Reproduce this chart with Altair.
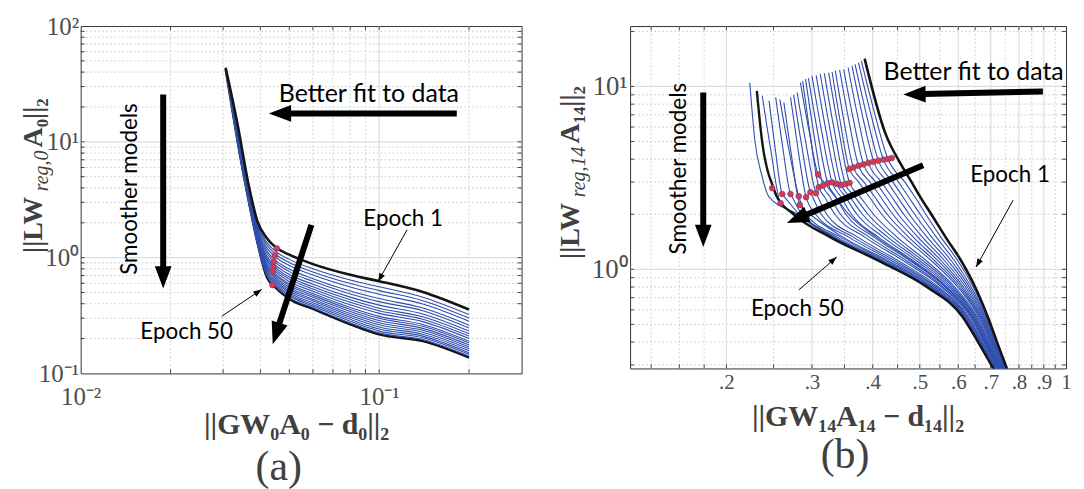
import altair as alt
import pandas as pd

SERIF = "Liberation Serif"
SANS = "Lato"
BLUE = "#2F4EAD"
BLACK = "#141414"
RED = "#E8343C"
LABEL_GRAY = "#4d4d4d"

# ======================= Panel (a) data =======================
A_X = [0.0306, 0.0335, 0.0365, 0.039, 0.042, 0.045, 0.05, 0.06, 0.08, 0.1, 0.14, 0.2]
# one row per sampled epoch (epoch 1 first, epoch 50 last)
A_CURVES = [
    [43.6, 14.4, 4.30, 2.10, 1.48, 1.23, 1.06, 0.879, 0.710, 0.625, 0.505, 0.356],
    [43.5, 13.8, 4.14, 2.00, 1.36, 1.13, 0.966, 0.800, 0.640, 0.560, 0.455, 0.322],
    [43.4, 13.5, 4.04, 1.94, 1.29, 1.07, 0.908, 0.752, 0.597, 0.519, 0.425, 0.301],
    [43.3, 13.1, 3.94, 1.87, 1.22, 1.01, 0.855, 0.707, 0.558, 0.483, 0.397, 0.282],
    [43.2, 12.8, 3.84, 1.81, 1.15, 0.946, 0.796, 0.658, 0.515, 0.443, 0.367, 0.261],
    [43.1, 12.5, 3.76, 1.76, 1.10, 0.904, 0.757, 0.624, 0.486, 0.417, 0.348, 0.247],
    [43.0, 12.2, 3.67, 1.71, 1.04, 0.857, 0.714, 0.589, 0.456, 0.389, 0.326, 0.232],
    [42.9, 11.9, 3.60, 1.66, 1.00, 0.820, 0.679, 0.560, 0.432, 0.366, 0.308, 0.220],
    [42.8, 11.7, 3.54, 1.63, 0.964, 0.787, 0.652, 0.536, 0.411, 0.348, 0.294, 0.210],
    [42.7, 11.5, 3.48, 1.59, 0.925, 0.757, 0.622, 0.513, 0.391, 0.330, 0.280, 0.200],
    [42.6, 11.3, 3.41, 1.55, 0.887, 0.724, 0.594, 0.489, 0.371, 0.311, 0.265, 0.190],
    [42.5, 11.1, 3.37, 1.52, 0.861, 0.702, 0.574, 0.472, 0.357, 0.299, 0.255, 0.183],
    [42.4, 10.9, 3.32, 1.49, 0.834, 0.679, 0.553, 0.455, 0.343, 0.286, 0.245, 0.176],
    [42.3, 10.8, 3.27, 1.46, 0.807, 0.656, 0.533, 0.438, 0.329, 0.274, 0.236, 0.169],
    [42.3, 10.6, 3.23, 1.44, 0.784, 0.637, 0.515, 0.424, 0.317, 0.263, 0.227, 0.163],
    [42.2, 10.5, 3.18, 1.41, 0.760, 0.617, 0.498, 0.408, 0.305, 0.252, 0.218, 0.157],
    [42.2, 10.3, 3.14, 1.39, 0.736, 0.597, 0.481, 0.394, 0.293, 0.242, 0.210, 0.151],
    [42.1, 10.2, 3.10, 1.36, 0.716, 0.579, 0.466, 0.382, 0.282, 0.232, 0.203, 0.146],
    [42.1, 10.0, 3.06, 1.34, 0.697, 0.562, 0.451, 0.370, 0.273, 0.224, 0.196, 0.141],
    [42.2, 10.3, 3.14, 1.39, 0.681, 0.550, 0.440, 0.360, 0.265, 0.217, 0.190, 0.137],
]
A_DOT_X = [0.0454, 0.0447, 0.0444, 0.0442, 0.0440, 0.0439]
A_DOT_Y = [1.20, 1.04, 0.92, 0.83, 0.76, 0.58]

A_XDOM = [0.01, 0.3]
A_YDOM = [0.1, 100]
A_XTICKS = [0.01, 0.1]
A_YTICKS = [0.1, 1, 10, 100]
A_MAJOR_X = [0.1]
A_MINOR_X = [0.02, 0.03, 0.04, 0.05, 0.06, 0.07, 0.08, 0.09, 0.2]
A_MAJOR_Y = [1, 10]
A_MINOR_Y = [0.2, 0.3, 0.4, 0.5, 0.6, 0.7, 0.8, 0.9, 2, 3, 4, 5, 6, 7, 8, 9,
             20, 30, 40, 50, 60, 70, 80, 90]

A_TEXT = ["Better fit to data", "Epoch 1", "Epoch 50"]
A_TEXT_X = [0.0461, 0.0885, 0.01585]
A_TEXT_Y = [22.3, 1.88, 0.198]
A_TEXT_SIZE = [25, 22.5, 22.5]
A_ROT_X, A_ROT_Y = [0.0155], [3.91]
A_ARR_TAIL_X = [0.182, 0.0189, 0.0593]
A_ARR_TAIL_Y = [17.6, 25.6, 1.92]
A_ARR_BASE_X = [0.0497, 0.0189, 0.0461]
A_ARR_BASE_Y = [17.6, 0.804, 0.261]
A_ARR_TIP_X = [0.0427, 0.0189, 0.0440]
A_ARR_TIP_Y = [17.6, 0.542, 0.179]
A_ARR_ANGLE = [270, 180, 198]
A_LEAD_X1 = [0.124, 0.0297]
A_LEAD_Y1 = [1.74, 0.312]
A_LEAD_X2 = [0.0992, 0.0404]
A_LEAD_Y2 = [0.622, 0.531]
A_LEAD_ANGLE = [209, 56]

# ======================= Panel (b) data =======================
B_LEVELS = [3.0, 2.5, 2.0, 1.5, 1.1, 0.8, 0.55, 0.4, 0.25]
B_TOP_X = [0.385, 0.379, 0.374, 0.368, 0.3626, 0.356, 0.3486, 0.342, 0.335, 0.33,
           0.3247, 0.318, 0.312, 0.306, 0.300, 0.295, 0.291, 0.287, 0.284, 0.2796,
           0.275, 0.271, 0.2626, 0.2576, 0.2526, 0.2447, 0.237, 0.231, 0.2234]
B_TOP_Y = [14.2, 13.8, 13.5, 13.2, 12.97, 12.7, 12.4, 12.3, 12.2, 12.0,
           11.9, 11.8, 11.7, 11.5, 11.4, 11.1, 10.96, 10.7, 10.5, 9.27,
           9.0, 8.71, 8.18, 8.5, 8.71, 8.36, 8.9, 9.47, 10.5]
B_MID_X = [0.424, 0.402, 0.3952, 0.3874, 0.3803, 0.3722, 0.3641, 0.3564, 0.3485, 0.3426,
           0.3399, 0.333, 0.3268, 0.3203, 0.3135, 0.3077, 0.3023, 0.2973, 0.2952, 0.2914,
           0.2853, 0.2804, 0.2719, 0.2685, 0.2609, 0.2518, 0.2467, 0.237, 0.229]
B_MID_Y = [5.61, 7.44, 7.33, 7.2, 7.09, 6.96, 6.82, 6.74, 6.64, 6.52,
           5.94, 5.88, 5.81, 5.8, 5.84, 5.73, 5.61, 5.48, 5.89, 4.92,
           4.87, 4.65, 4.29, 4.62, 4.74, 4.64, 4.52, 4.95, 5.0]
B_CORNER_X = [0.459, 0.43, 0.421, 0.411, 0.402, 0.392, 0.383, 0.374, 0.365, 0.358,
              0.3585, 0.3514, 0.3449, 0.3378, 0.33, 0.3232, 0.316, 0.3098, 0.3088, 0.3058,
              0.2978, 0.2918, 0.2832, 0.2818, 0.271, 0.2605, 0.2585, 0.2447, 0.237]
B_CORNER_Y = [3.69, 4.01, 3.98, 3.93, 3.88, 3.82, 3.75, 3.69, 3.61, 3.54,
              2.97, 2.93, 2.89, 2.93, 2.99, 2.96, 2.87, 2.81, 3.30, 2.61,
              2.64, 2.48, 2.25, 2.51, 2.58, 2.58, 2.30, 3.26, 3.2]
N = None
B_LOW_X = [
    [0.481, 0.5006, 0.528, 0.565, 0.61, 0.65, 0.69, 0.721, 0.77],
    [0.466, 0.488, 0.5144, 0.5527, 0.6006, 0.6441, 0.6866, 0.7185, 0.7683],
    [0.4522, 0.4735, 0.501, 0.5408, 0.5914, 0.6381, 0.6833, 0.716, 0.7666],
    [0.4402, 0.461, 0.488, 0.5291, 0.5824, 0.6324, 0.6801, 0.7134, 0.7649],
    [0.4291, 0.4494, 0.4757, 0.5176, 0.5735, 0.6266, 0.6769, 0.7108, 0.7633],
    [0.4172, 0.4374, 0.4634, 0.5064, 0.5647, 0.6209, 0.6736, 0.7084, 0.7615],
    [0.406, 0.4259, 0.4515, 0.4955, 0.556, 0.6152, 0.6704, 0.7058, 0.7599],
    [0.3951, 0.4147, 0.4399, 0.4848, 0.5476, 0.6097, 0.6671, 0.7033, 0.7582],
    [0.3838, 0.4033, 0.4285, 0.4742, 0.5392, 0.6041, 0.664, 0.7007, 0.7566],
    [0.3743, 0.3932, 0.4175, 0.464, 0.5311, 0.5986, 0.6609, 0.6981, 0.7549],
    [N, 0.3767, 0.4015, 0.449, 0.5188, 0.5905, 0.6561, 0.6944, 0.7525],
    [N, 0.3675, 0.3912, 0.4391, 0.5109, 0.5851, 0.653, 0.6918, 0.7509],
    [N, 0.3587, 0.381, 0.4296, 0.5031, 0.5797, 0.6498, 0.6893, 0.7492],
    [N, 0.3513, 0.3712, 0.4203, 0.4955, 0.5744, 0.6467, 0.6869, 0.7475],
    [N, 0.3437, 0.3617, 0.4112, 0.4879, 0.5691, 0.6436, 0.6844, 0.7459],
    [N, 0.3355, 0.3524, 0.4024, 0.4805, 0.564, 0.6406, 0.682, 0.7442],
    [N, 0.3262, 0.3433, 0.3937, 0.4731, 0.5588, 0.6375, 0.6795, 0.7426],
    [N, 0.3181, 0.3344, 0.3852, 0.4659, 0.5537, 0.6345, 0.677, 0.7409],
    [0.3174, 0.3346, 0.357, 0.4069, 0.4842, 0.5666, 0.6421, 0.6831, 0.745],
    [N, 0.3083, 0.3216, 0.3728, 0.4553, 0.5462, 0.6299, 0.6734, 0.7385],
    [N, 0.3008, 0.3133, 0.3648, 0.4483, 0.5412, 0.6269, 0.6709, 0.737],
    [N, N, 0.3052, 0.3569, 0.4414, 0.5363, 0.6239, 0.6686, 0.7353],
    [N, N, 0.2973, 0.3475, 0.4347, 0.5314, 0.6209, 0.6662, 0.7338],
    [N, N, 0.2916, 0.3434, 0.4296, 0.5277, 0.6187, 0.6643, 0.7325],
    [N, 0.2728, 0.286, 0.3378, 0.4246, 0.5241, 0.6165, 0.6625, 0.7313],
    [N, 0.2631, 0.2822, 0.3342, 0.4214, 0.5217, 0.615, 0.6614, 0.7304],
    [N, N, 0.2786, 0.3305, 0.4181, 0.5193, 0.6135, 0.6602, 0.7297],
    [0.2475, 0.2539, 0.275, 0.327, 0.415, 0.517, 0.612, 0.659, 0.729],
    [0.2385, 0.2445, 0.2804, 0.3323, 0.4198, 0.5205, 0.6143, 0.6608, 0.7301],
]
B_BLACK = [0, 27]  # epoch 1 and epoch 50

B_DOT_X = [0.2485, 0.2585, 0.2605, 0.271, 0.2818, 0.2832, 0.2918, 0.2978, 0.3058, 0.3088,
           0.3098, 0.316, 0.3232, 0.33, 0.3378, 0.3449, 0.3514, 0.3585, 0.358, 0.3654,
           0.3742, 0.383, 0.392, 0.4016, 0.411, 0.421, 0.4296, 0.4378]
B_DOT_Y = [2.78, 2.30, 2.58, 2.58, 2.51, 2.25, 2.48, 2.64, 2.61, 3.30,
           2.81, 2.87, 2.96, 2.99, 2.93, 2.89, 2.93, 2.97, 3.54, 3.61,
           3.69, 3.75, 3.82, 3.88, 3.93, 3.98, 4.01, 4.06]

B_XDOM = [0.1267, 1.0]
B_YDOM = [0.287, 21.4]
B_XTICKS = [0.2, 0.3, 0.4, 0.5, 0.6, 0.7, 0.8, 0.9, 1.0]
B_YTICKS = [1, 10]
B_MAJOR_X = [0.2, 0.3, 0.4, 0.5, 0.6, 0.7, 0.8, 0.9]
B_MINOR_X = [0.14, 0.16, 0.18, 0.25, 0.35, 0.45, 0.55, 0.65, 0.75, 0.85, 0.95]
B_MAJOR_Y = [1, 10]
B_MINOR_Y = [0.3, 0.4, 0.5, 0.6, 0.7, 0.8, 0.9, 2, 3, 4, 5, 6, 7, 8, 9, 20]

B_TEXT = ["Better fit to data", "Epoch 1", "Epoch 50"]
B_TEXT_X = [0.421, 0.635, 0.2247]
B_TEXT_Y = [10.9, 2.995, 0.556]
B_TEXT_SIZE = [25, 22.5, 22.5]
B_ROT_X, B_ROT_Y = [0.1654], [3.55]
B_ARR_TAIL_X = [0.896, 0.1792, 0.508]
B_ARR_TAIL_Y = [9.39, 9.27, 3.71]
B_ARR_BASE_X = [0.508, 0.1792, 0.2905]
B_ARR_BASE_Y = [9.09, 1.70, 1.973]
B_ARR_TIP_X = [0.4626, 0.1792, 0.2664]
B_ARR_TIP_Y = [9.04, 1.323, 1.789]
B_ARR_ANGLE = [269, 180, 247]
B_LEAD_X1 = [0.778, 0.2818]
B_LEAD_Y1 = [2.388, 0.771]
B_LEAD_X2 = [0.653, 0.3372]
B_LEAD_Y2 = [1.029, 1.167]
B_LEAD_ANGLE = [209, 49]

HEAD = "M0,0L-0.75,2L0.75,2Z"


def line_frames(curves):
    """curves: list of (list_of_x, list_of_y); returns frames for blue, first, last."""
    blue, first, last = [], [], []
    n = len(curves)
    for i, (xs, ys) in enumerate(curves):
        for j, (x, y) in enumerate(zip(xs, ys)):
            row = {"curve": i, "ord": j, "x": x, "y": y}
            if i == 0:
                first.append(row)
            elif i == n - 1:
                last.append(row)
            else:
                blue.append(row)
    return pd.DataFrame(blue), pd.DataFrame(first), pd.DataFrame(last)


def curves_a():
    return [(A_X, ys) for ys in A_CURVES]


def curves_b():
    out = []
    order = [i for i in range(len(B_TOP_X)) if i not in B_BLACK]
    order = [B_BLACK[0]] + order + [B_BLACK[1]]
    for i in order:
        pts = [(B_TOP_X[i], B_TOP_Y[i]), (B_MID_X[i], B_MID_Y[i]),
               (B_CORNER_X[i], B_CORNER_Y[i])]
        for lev, x in zip(B_LEVELS, B_LOW_X[i]):
            if x is not None:
                pts.append((x, lev))
        out.append(([p[0] for p in pts], [p[1] for p in pts]))
    return out


def panel(W, H, xdom, ydom, xaxis, yaxis, frames, dots, grid, ann, titles, last_below):
    xs = alt.Scale(type="log", domain=xdom, nice=False)
    ys = alt.Scale(type="log", domain=ydom, nice=False)
    X = lambda f: alt.X(f, type="quantitative", scale=xs, axis=xaxis)
    Y = lambda f: alt.Y(f, type="quantitative", scale=ys, axis=yaxis)
    dummy = pd.DataFrame({"a": [0]})
    layers = []
    major_x, minor_x, major_y, minor_y = grid
    # grid
    layers.append(alt.Chart(pd.DataFrame({"v": minor_x})).mark_rule(
        color="#c8c8c8", strokeWidth=1, strokeDash=[1.5, 2.5]).encode(x=X("v")))
    layers.append(alt.Chart(pd.DataFrame({"v": minor_y})).mark_rule(
        color="#c8c8c8", strokeWidth=1, strokeDash=[1.5, 2.5]).encode(y=Y("v")))
    layers.append(alt.Chart(pd.DataFrame({"v": major_x})).mark_rule(
        color="#dddddd", strokeWidth=1.2).encode(x=X("v")))
    layers.append(alt.Chart(pd.DataFrame({"v": major_y})).mark_rule(
        color="#dddddd", strokeWidth=1.2).encode(y=Y("v")))
    # inward frame ticks
    tx = pd.DataFrame({"v": major_x + minor_x})
    ty = pd.DataFrame({"v": major_y + minor_y})
    tick = dict(color="#444444", strokeWidth=1)
    layers.append(alt.Chart(tx).mark_rule(**tick).encode(
        x=X("v"), y=alt.value(H), y2=alt.value(H - 4)))
    layers.append(alt.Chart(tx).mark_rule(**tick).encode(
        x=X("v"), y=alt.value(0), y2=alt.value(4)))
    layers.append(alt.Chart(ty).mark_rule(**tick).encode(
        y=Y("v"), x=alt.value(0), x2=alt.value(4)))
    layers.append(alt.Chart(ty).mark_rule(**tick).encode(
        y=Y("v"), x=alt.value(W), x2=alt.value(W - 4)))
    # curves
    blue_df, first_df, last_df = frames
    line_enc = dict(x=X("x"), y=Y("y"), detail="curve:N", order="ord:Q")
    last_layer = alt.Chart(last_df).mark_line(
        color=BLACK, strokeWidth=2.4, clip=True, interpolate="monotone").encode(**line_enc)
    if last_below:
        layers.append(last_layer)
    layers.append(alt.Chart(blue_df).mark_line(
        color=BLUE, strokeWidth=1.1, clip=True, interpolate="monotone").encode(**line_enc))
    if not last_below:
        layers.append(last_layer)
    layers.append(alt.Chart(first_df).mark_line(
        color=BLACK, strokeWidth=2.6, clip=True, interpolate="monotone").encode(**line_enc))
    layers.append(alt.Chart(dots).mark_point(
        shape="circle", filled=True, size=34, color=RED, opacity=1,
        stroke="#3a4fb0", strokeWidth=0.6).encode(x=X("x"), y=Y("y")))
    # annotations
    texts, rot, arrows, leads = ann
    layers.append(alt.Chart(arrows).mark_rule(color="black", strokeWidth=6).encode(
        x=X("tx"), y=Y("ty"), x2="bx:Q", y2="by:Q"))
    layers.append(alt.Chart(arrows).mark_point(
        shape=HEAD, filled=True, size=500, color="black", opacity=1).encode(
        x=X("px"), y=Y("py"), angle=alt.Angle("ang:Q", scale=None)))
    layers.append(alt.Chart(leads).mark_rule(color="black", strokeWidth=1).encode(
        x=X("x1"), y=Y("y1"), x2="x2:Q", y2="y2:Q"))
    layers.append(alt.Chart(leads).mark_point(
        shape=HEAD, filled=True, size=70, color="black", opacity=1).encode(
        x=X("x2"), y=Y("y2"), angle=alt.Angle("ang:Q", scale=None)))
    layers.append(alt.Chart(texts).mark_text(
        font=SANS, align="left", baseline="alphabetic", color="black").encode(
        x=X("x"), y=Y("y"), text="t:N", size=alt.Size("fs:Q", scale=None)))
    layers.append(alt.Chart(rot).mark_text(
        font=SANS, fontSize=22.5, align="center", baseline="alphabetic", angle=270,
        color="black").encode(x=X("x"), y=Y("y"), text="t:N"))
    # titles (pieces of LaTeX-like math)
    for t in titles:
        txt, px, py, size, weight, style, ang, align = t
        kw = dict(text=txt, font=SERIF, fontSize=size, fontWeight=weight, fontStyle=style,
                  align=align, baseline="alphabetic", color="#404040")
        if ang:
            kw["angle"] = ang
        layers.append(alt.Chart(dummy).mark_text(**kw).encode(
            x=alt.value(px), y=alt.value(py)))
    return alt.layer(*layers).properties(width=W, height=H)


def ann_frames(text, tx, ty, tsize, rx, ry, atx, aty, abx, aby, apx, apy, aang,
               lx1, ly1, lx2, ly2, lang):
    texts = pd.DataFrame({"t": text, "x": tx, "y": ty, "fs": tsize})
    rot = pd.DataFrame({"t": ["Smoother models"], "x": rx, "y": ry})
    arrows = pd.DataFrame({"tx": atx, "ty": aty, "bx": abx, "by": aby,
                           "px": apx, "py": apy, "ang": aang})
    leads = pd.DataFrame({"x1": lx1, "y1": ly1, "x2": lx2, "y2": ly2, "ang": lang})
    return texts, rot, arrows, leads


# ---------- panel (a) ----------
WA, HA = 443, 349
axa_x = alt.Axis(values=A_XTICKS, title=None, grid=False, ticks=False, domain=False,
                 labelFlush=False, labelOverlap=False, labelFont=SERIF, labelFontSize=25,
                 labelColor=LABEL_GRAY, labelPadding=11,
                 labelExpr="datum.value < 0.05 ? '10⁻²' : '10⁻¹'")
axa_y = alt.Axis(values=A_YTICKS, title=None, grid=False, ticks=False, domain=False,
                 labelOverlap=False, labelFont=SERIF, labelFontSize=25,
                 labelColor=LABEL_GRAY, labelPadding=2,
                 labelExpr="datum.value < 0.5 ? '10⁻¹' : datum.value < 5 ? '10⁰' : datum.value < 50 ? '10¹' : '10²'")
frames_a = line_frames(curves_a())
dots_a = pd.DataFrame({"x": A_DOT_X, "y": A_DOT_Y})
ann_a = ann_frames(A_TEXT, A_TEXT_X, A_TEXT_Y, A_TEXT_SIZE, A_ROT_X, A_ROT_Y,
                   A_ARR_TAIL_X, A_ARR_TAIL_Y, A_ARR_BASE_X, A_ARR_BASE_Y,
                   A_ARR_TIP_X, A_ARR_TIP_Y, A_ARR_ANGLE,
                   A_LEAD_X1, A_LEAD_Y1, A_LEAD_X2, A_LEAD_Y2, A_LEAD_ANGLE)
titles_a = [
    ("||GW₀A₀ − d₀||₂", 217, 410, 30, "bold", "normal", 0, "center"),
    ("(a)", 199, 456, 42, "normal", "normal", 0, "center"),
    ("||LW", -39, 228, 28, "bold", "normal", 270, "left"),
    ("reg,0", -33, 166, 20, "normal", "italic", 270, "left"),
    ("A₀||₂", -39, 122, 28, "bold", "normal", 270, "left"),
]
pa = panel(WA, HA, A_XDOM, A_YDOM, axa_x, axa_y, frames_a, dots_a,
           (A_MAJOR_X, A_MINOR_X, A_MAJOR_Y, A_MINOR_Y), ann_a, titles_a, True)

# ---------- panel (b) ----------
WB, HB = 438, 344
axb_x = alt.Axis(values=B_XTICKS, title=None, grid=False, ticks=False, domain=False,
                 labelFlush=False, labelOverlap=False, labelFont=SERIF, labelFontSize=21,
                 labelColor=LABEL_GRAY, labelPadding=3,
                 labelExpr="datum.value > 0.95 ? '1' : replace(format(datum.value, '.1f'), '0.', '.')")
axb_y = alt.Axis(values=B_YTICKS, title=None, grid=False, ticks=False, domain=False,
                 labelOverlap=False, labelFont=SERIF, labelFontSize=27,
                 labelColor=LABEL_GRAY, labelPadding=3,
                 labelExpr="datum.value < 5 ? '10⁰' : '10¹'")
frames_b = line_frames(curves_b())
dots_b = pd.DataFrame({"x": B_DOT_X, "y": B_DOT_Y})
ann_b = ann_frames(B_TEXT, B_TEXT_X, B_TEXT_Y, B_TEXT_SIZE, B_ROT_X, B_ROT_Y,
                   B_ARR_TAIL_X, B_ARR_TAIL_Y, B_ARR_BASE_X, B_ARR_BASE_Y,
                   B_ARR_TIP_X, B_ARR_TIP_Y, B_ARR_ANGLE,
                   B_LEAD_X1, B_LEAD_Y1, B_LEAD_X2, B_LEAD_Y2, B_LEAD_ANGLE)
titles_b = [
    ("||GW₁₄A₁₄ − d₁₄||₂", 229, 402, 30, "bold", "normal", 0, "center"),
    ("(b)", 216, 444, 42, "normal", "normal", 0, "center"),
    ("||LW", -51, 234, 28, "bold", "normal", 270, "left"),
    ("reg,14", -45, 172, 20, "normal", "italic", 270, "left"),
    ("A₁₄||₂", -51, 118, 28, "bold", "normal", 270, "left"),
]
pb = panel(WB, HB, B_XDOM, B_YDOM, axb_x, axb_y, frames_b, dots_b,
           (B_MAJOR_X, B_MINOR_X, B_MAJOR_Y, B_MINOR_Y), ann_b, titles_b, False)

chart = alt.hconcat(pa, pb, spacing=109, bounds="flush").properties(
    padding={"left": 11, "top": 4, "right": 4, "bottom": 0}
).configure_view(stroke="#333333", strokeWidth=1)

chart.save("out.html", embed_options={"renderer": "svg", "actions": False})
